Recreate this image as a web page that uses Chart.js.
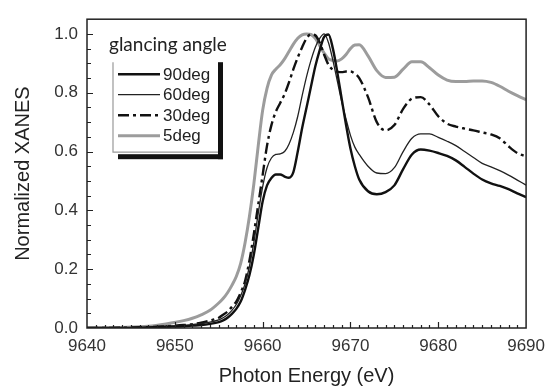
<!DOCTYPE html>
<html>
<head>
<meta charset="utf-8">
<title>Normalized XANES vs photon energy</title>
<script src="https://cdn.jsdelivr.net/npm/chart.js@4.4.1/dist/chart.umd.min.js"></script>
<style>
  body { margin: 0; background: #fff; }
  #wrap { width: 553px; height: 390px; }
</style>
</head>
<body>
<div id="wrap"><canvas id="xanesChart" width="553" height="390"></canvas></div>
<script>
// Values (photon energy in eV)
const energy = [9640, 9644, 9647, 9649, 9651, 9652, 9653, 9654, 9655,
  9655.5, 9656, 9656.5, 9657, 9657.5, 9658, 9658.5, 9659, 9659.5, 9660,
  9660.5, 9661, 9661.5, 9662, 9662.5, 9663, 9663.5, 9664, 9664.5, 9665,
  9665.5, 9666, 9666.5, 9667, 9667.5, 9668, 9668.5, 9669, 9669.5, 9670,
  9670.5, 9671, 9672, 9673, 9674, 9675, 9676, 9677, 9678, 9679, 9680,
  9681, 9682, 9683, 9684, 9685, 9686, 9687, 9688, 9689, 9690];

const xanes90 = [0, 0, 0.002, 0.004, 0.006, 0.008, 0.01, 0.014, 0.02,
  0.026, 0.035, 0.048, 0.065, 0.09, 0.13, 0.18, 0.25, 0.34, 0.43,
  0.485, 0.51, 0.522, 0.522, 0.515, 0.511, 0.53, 0.6, 0.68, 0.75,
  0.82, 0.89, 0.945, 0.99, 0.998, 0.95, 0.87, 0.78, 0.69, 0.61,
  0.55, 0.505, 0.465, 0.455, 0.462, 0.485, 0.54, 0.59, 0.607, 0.603, 0.595,
  0.585, 0.57, 0.548, 0.525, 0.505, 0.492, 0.483, 0.472, 0.458, 0.445];

const xanes60 = [0, 0.001, 0.003, 0.006, 0.009, 0.012, 0.015, 0.02, 0.028,
  0.035, 0.045, 0.06, 0.08, 0.11, 0.15, 0.21, 0.29, 0.39, 0.48,
  0.545, 0.578, 0.59, 0.592, 0.6, 0.625, 0.665, 0.72, 0.79, 0.855,
  0.91, 0.955, 0.985, 1.0, 0.97, 0.91, 0.84, 0.77, 0.71, 0.655,
  0.615, 0.59, 0.55, 0.527, 0.525, 0.545, 0.6, 0.645, 0.66, 0.66, 0.648,
  0.635, 0.62, 0.6, 0.58, 0.56, 0.548, 0.535, 0.52, 0.503, 0.486];

const xanes30 = [0, 0.001, 0.003, 0.006, 0.01, 0.013, 0.018, 0.025, 0.035,
  0.045, 0.056, 0.072, 0.09, 0.12, 0.16, 0.23, 0.32, 0.42, 0.52,
  0.62, 0.69, 0.735, 0.765, 0.795, 0.835, 0.88, 0.92, 0.955, 0.985,
  0.998, 0.995, 0.97, 0.93, 0.895, 0.878, 0.872, 0.87, 0.872, 0.872,
  0.865, 0.85, 0.785, 0.7, 0.672, 0.69, 0.745, 0.78, 0.785, 0.76, 0.72,
  0.695, 0.685, 0.678, 0.672, 0.665, 0.658, 0.645, 0.618, 0.595, 0.583];

const xanes5 = [0, 0.002, 0.006, 0.014, 0.025, 0.033, 0.045, 0.06, 0.085,
  0.1, 0.12, 0.145, 0.175, 0.22, 0.29, 0.38, 0.49, 0.62, 0.74,
  0.815, 0.86, 0.88, 0.895, 0.915, 0.94, 0.965, 0.985, 0.997, 1.0,
  0.998, 0.985, 0.96, 0.935, 0.915, 0.91, 0.908, 0.915, 0.93, 0.95,
  0.962, 0.963, 0.925, 0.875, 0.852, 0.853, 0.88, 0.905, 0.905, 0.885, 0.86,
  0.843, 0.838, 0.838, 0.84, 0.84, 0.835, 0.822, 0.805, 0.79, 0.776];

const seriesNames = ["90deg", "60deg", "30deg", "5deg"];
const legendTitle = "glancing angle";
const xTickValues = [9640, 9650, 9660, 9670, 9680, 9690];
const yTickValues = [0.0, 0.2, 0.4, 0.6, 0.8, 1.0];

const sans = '"Liberation Sans", Arial, sans-serif';

function toPoints(vals) {
  return energy.map((e, i) => ({ x: e, y: vals[i] }));
}

// Inward ticks + frame round the plot
const frameTicks = {
  id: 'frameTicks',
  afterDatasetsDraw(chart) {
    const { ctx, chartArea: a, scales: { x, y } } = chart;
    ctx.save();
    ctx.strokeStyle = '#222';
    ctx.lineWidth = 1.2;
    ctx.beginPath();
    for (let e = 9641; e < 9690; e++) {
      const px = Math.round(x.getPixelForValue(e)) + 0.5;
      const len = e % 10 === 0 ? 6 : 3;
      ctx.moveTo(px, a.bottom);
      ctx.lineTo(px, a.bottom - len);
    }
    for (let v = 0.05; v < 1.049; v += 0.05) {
      const py = Math.round(y.getPixelForValue(v)) + 0.5;
      const major = Math.abs(v * 5 - Math.round(v * 5)) < 0.01;
      ctx.moveTo(a.left, py);
      ctx.lineTo(a.left + (major ? 6 : 4), py);
    }
    ctx.stroke();
    ctx.lineWidth = 1.5;
    ctx.strokeRect(a.left, a.top, a.right - a.left, a.bottom - a.top);
    ctx.restore();
  }
};

// Boxed legend with a drop shadow
const boxLegend = {
  id: 'boxLegend',
  afterDraw(chart) {
    const { ctx, chartArea: a } = chart;
    const left = a.left + 26, top = a.top + 43;
    ctx.save();
    ctx.fillStyle = '#222';
    ctx.font = '19px Lato, "Open Sans", sans-serif';
    ctx.textBaseline = 'middle';
    ctx.fillText(legendTitle, left - 4, top - 17);

    // thin gray box edges
    ctx.strokeStyle = '#999';
    ctx.lineWidth = 1.2;
    ctx.beginPath();
    ctx.moveTo(left, top);
    ctx.lineTo(left, top + 90);
    ctx.lineTo(left + 106, top + 90);
    ctx.stroke();
    // black shadow
    ctx.fillStyle = '#111';
    ctx.fillRect(left + 105, top, 5, 97);
    ctx.fillRect(left + 5, top + 92, 105, 5);

    ctx.font = '17px ' + sans;
    chart.data.datasets.forEach((ds, i) => {
      const yy = top + 12 + i * 20.5;
      ctx.strokeStyle = ds.borderColor;
      ctx.lineWidth = ds.borderWidth;
      ctx.setLineDash(ds.borderDash || []);
      ctx.beginPath();
      ctx.moveTo(left + 5, yy);
      ctx.lineTo(left + 47, yy);
      ctx.stroke();
      ctx.setLineDash([]);
      ctx.fillStyle = '#222';
      ctx.fillText(ds.label, left + 50, yy + 1);
    });
    ctx.restore();
  }
};

new Chart(document.getElementById('xanesChart'), {
  type: 'line',
  data: {
    datasets: [
      { label: seriesNames[0], data: toPoints(xanes90), borderColor: '#111', borderWidth: 2.4 },
      { label: seriesNames[1], data: toPoints(xanes60), borderColor: '#222', borderWidth: 1.3 },
      { label: seriesNames[2], data: toPoints(xanes30), borderColor: '#111', borderWidth: 2.4, borderDash: [11, 4, 3, 4] },
      { label: seriesNames[3], data: toPoints(xanes5), borderColor: '#9c9c9c', borderWidth: 3 }
    ]
  },
  options: {
    responsive: false,
    animation: false,
    layout: { padding: { top: 7, right: 26, left: 0, bottom: 0 } },
    elements: {
      point: { radius: 0 },
      line: { cubicInterpolationMode: 'monotone', fill: false }
    },
    plugins: { legend: { display: false }, tooltip: { enabled: false } },
    scales: {
      x: {
        type: 'linear',
        min: 9640,
        max: 9690,
        afterFit(scale) { scale.height = 62; },
        afterBuildTicks(scale) { scale.ticks = xTickValues.map(v => ({ value: v })); },
        grid: { display: false, drawTicks: false },
        border: { display: false },
        ticks: {
          padding: 8,
          color: '#333',
          font: { family: sans, size: 17 },
          maxRotation: 0,
          callback: v => String(v)
        },
        title: {
          display: true,
          text: 'Photon Energy (eV)',
          color: '#222',
          font: { family: sans, size: 20 },
          padding: { top: 2, bottom: 2 }
        }
      },
      y: {
        min: 0,
        max: 1.05,
        afterFit(scale) { scale.width = 87; },
        afterBuildTicks(scale) { scale.ticks = yTickValues.map(v => ({ value: v })); },
        grid: { display: false, drawTicks: false },
        border: { display: false },
        ticks: {
          padding: 9,
          color: '#333',
          font: { family: sans, size: 17 },
          callback: v => v.toFixed(1)
        },
        title: {
          display: true,
          text: 'Normalized XANES',
          color: '#222',
          font: { family: sans, size: 20 },
          padding: { top: 11, bottom: 2 }
        }
      }
    }
  },
  plugins: [frameTicks, boxLegend]
});
</script>
</body>
</html>
